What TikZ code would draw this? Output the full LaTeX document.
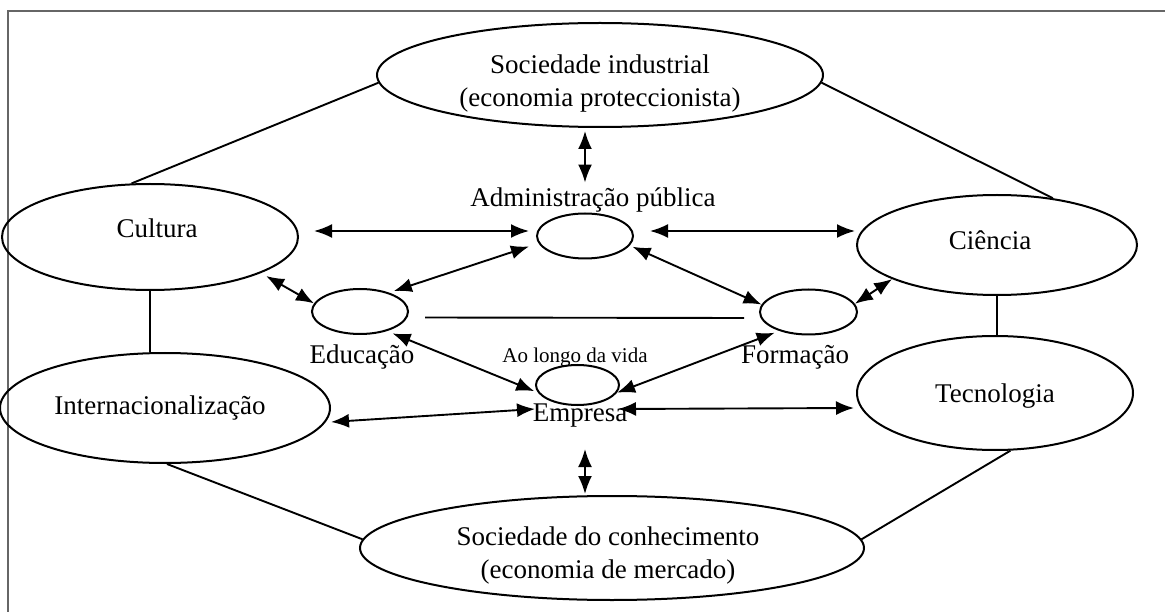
\documentclass[tikz,border=0pt]{standalone}
\usepackage{fontspec}
\setmainfont{Liberation Serif}
\usetikzlibrary{arrows.meta,shapes.geometric}
\begin{document}
\begin{tikzpicture}[x=1pt,y=-1pt,
  every node/.style={font=\fontsize{27}{33}\selectfont},
  big/.style={ellipse, draw, line width=2pt, inner sep=0pt},
  small/.style={ellipse, draw, line width=2pt, inner sep=0pt,
                minimum width=96pt, minimum height=45pt},
  caption/.style={inner sep=0pt},
  link/.style={line width=1.9pt},
  twoway/.style={link, {Latex[length=18pt,width=14pt]}-{Latex[length=18pt,width=14pt]}},
]
\useasboundingbox (0,0) rectangle (1165,612);
% frame
\draw[line width=2pt, black!60] (8,640) -- (8,11) -- (1190,11);

% outer ring of concepts
\node[big, minimum width=446pt, minimum height=104pt,
  label={[align=center, yshift=-9pt]center:Sociedade industrial\\(economia proteccionista)}]
  (si) at (600,75) {};
\node[big, minimum width=296pt, minimum height=106pt,
  label={[xshift=7pt, yshift=9pt]center:Cultura}] (cult) at (150,237) {};
\node[big, minimum width=280pt, minimum height=100pt,
  label={[xshift=-7pt, yshift=5pt]center:Ciência}] (cien) at (997,245) {};
\node[big, minimum width=330pt, minimum height=110pt,
  label={[xshift=-5pt]center:Internacionalização}] (intl) at (165,408) {};
\node[big, minimum width=276pt, minimum height=114pt,
  label={[yshift=-3pt]center:Tecnologia}] (tec) at (995,393) {};
\node[big, minimum width=504pt, minimum height=104pt,
  label={[align=center, xshift=-4pt, yshift=-8pt]center:Sociedade do conhecimento\\(economia de mercado)}]
  (sc) at (612,548) {};

% inner actors
\node[small] (adm) at (585,236) {};
\node[small] (edu) at (360,311.5) {};
\node[small, minimum width=97pt] (form) at (808.5,312) {};
\node[small, minimum width=83pt, minimum height=40pt] (emp) at (577.5,385) {};

\node[caption] (admT) at (593,200) {Administração pública};
\node[caption] (eduT) at (362,357) {Educação};
\node[caption] (formT) at (795,357) {Formação};
\node[caption, font=\fontsize{21}{25}\selectfont] (vidaT) at (575,357) {Ao longo da vida};
\node[caption] (empT) at (580,416) {Empresa};

% plain links of the outer ring
\draw[link] (si.182) -- (cult.109);
\draw[link] (si.-2) -- (cien.40);
\draw[link] (cult.south) -- (cult.south |- intl.north);
\draw[link] (cien.south) -- (cien.south |- tec.north);
\draw[link] (intl.-88) -- (sc.178);
\draw[link] (tec.-75) -- (sc.2);
\draw[link] ([xshift=16pt,yshift=-6pt]edu.east) -- ([xshift=-15pt,yshift=-6pt]form.west);

% two-way relations
\draw[twoway] ([xshift=-15pt,yshift=-3pt]si.south) -- ([xshift=-8pt,yshift=5pt]admT.north);
\draw[twoway] ([xshift=15pt,yshift=6pt]cult.east) -- ([xshift=-7pt,yshift=5pt]adm.west);
\draw[twoway] ([xshift=16pt,yshift=5pt]adm.east) -- ([xshift=-1pt,yshift=14pt]cien.west);
\draw[twoway, shorten <=10pt, shorten >=5pt] (adm.189) -- (edu.33);
\draw[twoway, shorten <=3pt] (adm.-12) -- (form.171);
\draw[twoway, shorten <=6pt] (cult.-18) -- (edu.170);
\draw[twoway] (form.10) -- (cien.198);
\draw[twoway, shorten <=6pt, shorten >=4pt] (edu.-36) -- (emp.191);
\draw[twoway, shorten <=5pt] (form.213) -- (emp.-11);
\draw[twoway] ([yshift=-14pt]intl.east) -- ([xshift=-42.5pt,yshift=-3pt]emp.south);
\draw[twoway] ([xshift=40.5pt,yshift=-3pt]emp.south) -- ([xshift=-2pt,yshift=-15pt]tec.west);
\draw[twoway] ([xshift=-27pt,yshift=46pt]sc.north) -- ([xshift=-27pt,yshift=1pt]sc.north);
\end{tikzpicture}
\end{document}
